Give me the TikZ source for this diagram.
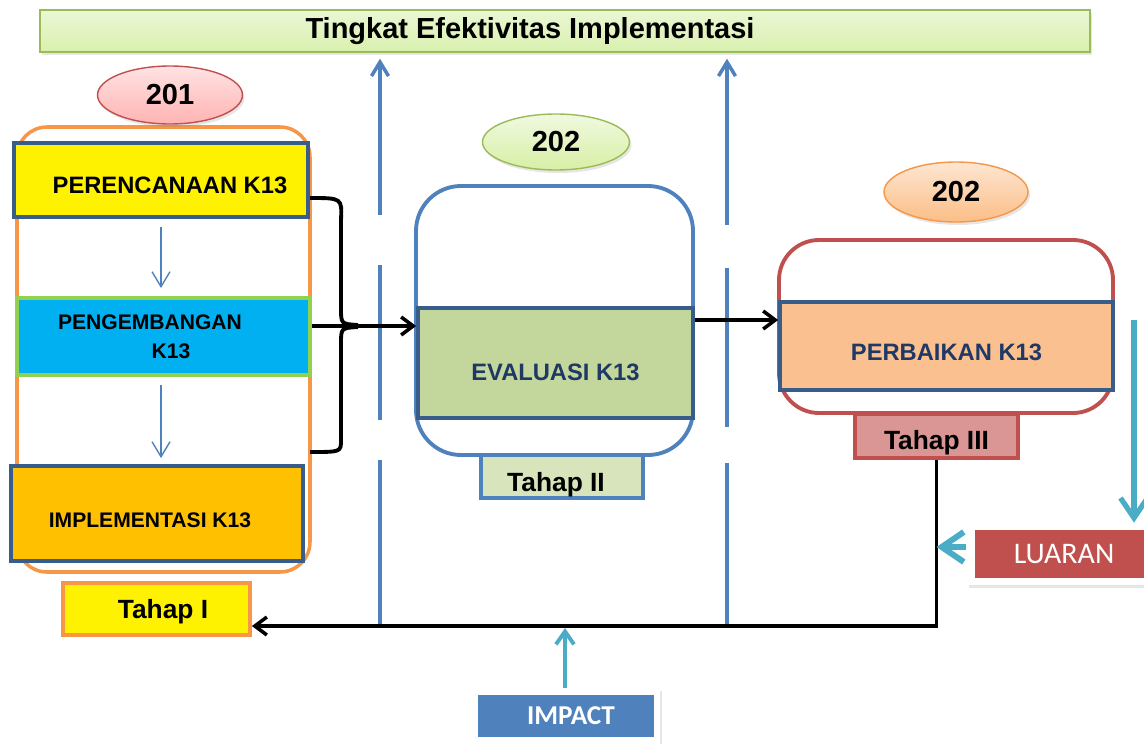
\documentclass[tikz,border=0pt]{standalone}
\usepackage{fontspec}
\setmainfont{Liberation Sans}
\newfontfamily\calfont{Carlito}
\usetikzlibrary{arrows.meta,shapes.geometric,shadows}
\definecolor{kblue}{HTML}{4F81BD}
\definecolor{kdark}{HTML}{385D8A}
\definecolor{knavy}{HTML}{1F3864}
\definecolor{korange}{HTML}{F79646}
\definecolor{kred}{HTML}{C0504D}
\definecolor{kgreen}{HTML}{9BBB59}
\definecolor{klime}{HTML}{92D050}
\definecolor{kcyan}{HTML}{00B0F0}
\definecolor{kamber}{HTML}{FFC000}
\definecolor{kolive}{HTML}{C3D69B}
\definecolor{kpale}{HTML}{D7E4BC}
\definecolor{kpeach}{HTML}{FAC090}
\definecolor{krose}{HTML}{D99694}
\definecolor{kteal}{HTML}{4BACC6}
\definecolor{titletop}{HTML}{EBF7D5}
\definecolor{titlebot}{HTML}{D9F0AE}
\definecolor{pinktop}{HTML}{FFE3E3}
\definecolor{pinkbot}{HTML}{FFB3B3}
\definecolor{limetop}{HTML}{F0F9E0}
\definecolor{limebot}{HTML}{D7EFA5}
\definecolor{peachtop}{HTML}{FDE6D2}
\definecolor{peachbot}{HTML}{FBBE86}

\begin{document}
\begin{tikzpicture}[x=0.02cm,y=-0.02cm,
	kbox/.style={rectangle, draw=kdark, line width=2.2pt, inner sep=0pt, font=\bfseries\fontsize{13.5}{15}\selectfont},
	tahap/.style={rectangle, line width=2.2pt, inner sep=0pt, font=\bfseries\fontsize{15}{17}\selectfont},
	bubble/.style={ellipse, line width=0.8pt, inner sep=0pt, font=\bfseries\fontsize{16.5}{18}\selectfont, drop shadow={shadow xshift=0.4mm, shadow yshift=-0.6mm, opacity=0.2}},
	whiteframe/.style={rectangle, fill=white, inner sep=0pt, drop shadow={shadow xshift=0.5mm, shadow yshift=-0.6mm, opacity=0.2}},
	conn/.style={line width=2pt, -{Straight Barb[length=2.4mm,width=3.6mm]}},
	divider/.style={kblue, line width=2pt},
	flow/.style={kblue, line width=0.8pt, -{Straight Barb[length=3mm,width=3.6mm]}},
	tealarr/.style={kteal, line width=2.2pt, -{Straight Barb[length=2.6mm,width=3.6mm]}},
	bracel/.style={line width=2.2pt}]
	\clip (0,0) rectangle (1144,744);
	%% ========================================================
	\node[rectangle, draw=kgreen, line width=0.8pt, top color=titletop, bottom color=titlebot, minimum width=21cm, minimum height=0.84cm, drop shadow={shadow xshift=0.4mm, shadow yshift=-0.6mm, opacity=0.2}] (title) at (565,31) {};
	\node[font=\bfseries\fontsize{16.5}{18}\selectfont] (titletxt) at (530,31) {Tingkat Efektivitas Implementasi};

	\coordinate (tip) at (358,326);
	\coordinate (ep) at (0,320);
	\coordinate (fb) at (0,626);
	%% ========================================================
	\draw[korange, line width=2pt, rounded corners=0.6cm] (17,127) rectangle (310,572);
	\node[kbox, fill=yellow, minimum width=5.88cm, minimum height=1.48cm, text height=15.4pt] (plan) at (161,180) {\hspace*{0.36cm}PERENCANAAN K13};
	\node[kbox, draw=klime, fill=kcyan, minimum width=5.86cm, minimum height=1.54cm, align=center, font=\bfseries\fontsize{12}{16.5}\selectfont] (dev) at (163.5,336.5) {PENGEMBANGAN\hspace*{0.54cm}\\\hspace*{0.3cm}K13};
	\node[kbox, fill=kamber, minimum width=5.84cm, minimum height=1.9cm, text height=16.6pt, font=\bfseries\fontsize{12}{14}\selectfont] (impl) at (157,513.5) {IMPLEMENTASI K13\hspace*{0.28cm}};
	\node[tahap, draw=korange, fill=yellow, minimum width=3.74cm, minimum height=1.04cm, text height=14.1pt] (tI) at (156.5,609) {\hspace*{0.26cm}Tahap I};

	\draw[flow, shorten <=0.16cm, shorten >=0.16cm] (plan.south) -- (plan.south |- dev.north);
	\draw[flow, shorten <=0.16cm, shorten >=0.12cm] (plan.south |- dev.south) -- (plan.south |- impl.north);

	\draw[bracel] (310,198) .. controls (342,198) .. (341,220) -- (341,308) .. controls (341,324) .. (358,325);
	\draw[bracel] (358,327) .. controls (341,328) .. (341,344) -- (341,440) .. controls (341,452) .. (310,452);
	%% ========================================================
	\draw[kblue, line width=2.2pt, rounded corners=0.9cm] (416,186) rectangle (693,455);
	\node[kbox, fill=kolive, text=knavy, minimum width=5.5cm, minimum height=2.2cm, text height=19.9pt] (evalbox) at (555.5,363) {EVALUASI K13};
	\node[tahap, draw=kblue, fill=kpale, minimum width=3.24cm, minimum height=0.86cm, text height=19.8pt] (tII) at (562,476.5) {Tahap II\hspace*{0.24cm}};
	%% ========================================================
	\draw[kred, line width=2.2pt, rounded corners=0.8cm] (779,240) rectangle (1113,413);
	\node[kbox, fill=kpeach, text=knavy, minimum width=6.66cm, minimum height=1.76cm, text height=16.5pt] (perb) at (946.5,346) {PERBAIKAN K13};
	\node[tahap, draw=kred, fill=krose, minimum width=3.26cm, minimum height=0.88cm, text height=18.7pt] (tIII) at (936.5,436) {Tahap III};
	%% ========================================================
	\node[bubble, draw=kred, top color=pinktop, bottom color=pinkbot, minimum width=2.9cm, minimum height=1.16cm] (b201) at (170,95) {201};
	\node[bubble, draw=kgreen, top color=limetop, bottom color=limebot, minimum width=2.94cm, minimum height=1.12cm] (b202a) at (556,142) {202};
	\node[bubble, draw=korange, top color=peachtop, bottom color=peachbot, minimum width=2.88cm, minimum height=1.2cm] (b202b) at (956,192) {202};
	%% ========================================================
	\foreach \vx/\ya/\yb/\yc/\yd in {380/215/265/420/460, 727/225/268/427/463} {
		\draw[divider, -{Straight Barb[length=2.8mm,width=3.4mm]}, shorten >=0.12cm] (\vx,\ya) -- (\vx,0 |- title.south);
		\draw[divider] (\vx,\yb) -- (\vx,\yc);
		\draw[divider] (\vx,\yd) -- (\vx,0 |- fb);
	}

	\draw[conn] (tip -| dev.east) -- (tip -| evalbox.west);
	\draw[conn] (evalbox.east |- ep) -- (perb.west |- ep);
	\draw[conn] (tIII.south) -- (tIII.south |- fb) -- (fb -| tI.east);
	%% ========================================================
	\node[whiteframe, minimum width=3.86cm, minimum height=1.24cm] (lfr) at (1063,554) {};
	\node[rectangle, fill=kred, text=white, minimum width=3.5cm, minimum height=0.96cm, font=\calfont\fontsize{17}{19}\selectfont] (luar) at (1062,554) {\hspace*{0.08cm}LUARAN};
	\node[whiteframe, minimum width=3.8cm, minimum height=1.24cm] (ifr) at (565,719) {};
	\node[rectangle, fill=kblue, text=white, minimum width=3.54cm, minimum height=0.84cm, font=\calfont\bfseries\fontsize{15.5}{17}\selectfont] (imp) at (566,716) {\hspace*{0.2cm}IMPACT};

	\coordinate (la) at ([yshift=0.14cm]lfr.west);
	\draw[tealarr, line width=3pt, -{Straight Barb[length=4mm,width=5.4mm]}] (1134,320) -- (1134,0 |- lfr.north);
	\draw[tealarr, line width=3.4pt, -{Straight Barb[length=4.4mm,width=6mm]}] (la) -- (la -| tIII.south);
	\draw[tealarr, shorten >=0.04cm] (ifr.north) -- (ifr.north |- fb);
	%% ========================================================
\end{tikzpicture}
\end{document}
